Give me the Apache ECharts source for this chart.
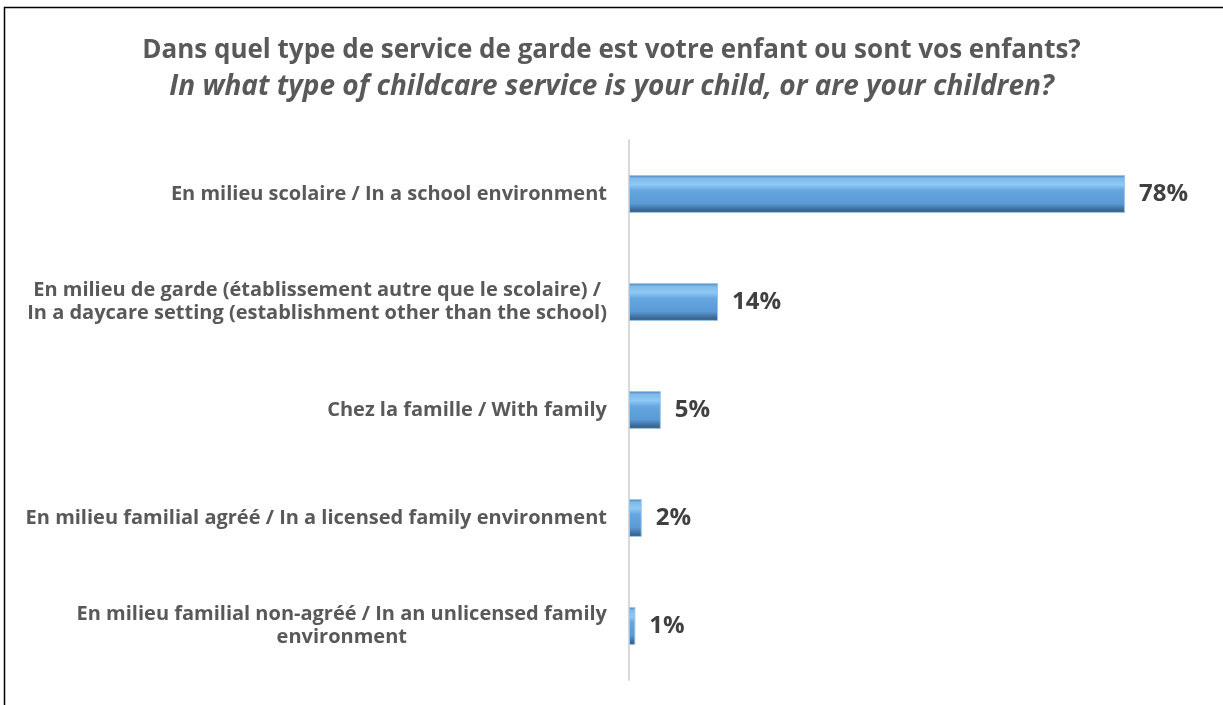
<!DOCTYPE html>
<html>
<head>
<meta charset="utf-8">
<script src="https://cdn.jsdelivr.net/npm/echarts@6/dist/echarts.min.js"></script>
<style>
html,body{margin:0;padding:0;background:#fff;}
#chart{width:1223px;height:705px;}
</style>
</head>
<body>
<div id="chart"></div>
<script>
const titleFr = 'Dans quel type de service de garde est votre enfant ou sont vos enfants?';
const titleEn = 'In what type of childcare service is your child, or are your children?';
const categories = [
  'En milieu scolaire / In a school environment',
  'En milieu de garde (établissement autre que le scolaire) /\nIn a daycare setting (establishment other than the school)',
  'Chez la famille / With family',
  'En milieu familial agréé / In a licensed family environment',
  'En milieu familial non-agréé / In an unlicensed family\nenvironment'
];
const values = [78, 14, 5, 2, 1];

const FONT = "'Open Sans', 'Liberation Sans', sans-serif";
const chart = echarts.init(document.getElementById('chart'));
const barGradient = new echarts.graphic.LinearGradient(0, 0, 0, 1, [
  {offset: 0, color: '#3f78b3'},
  {offset: 0.08, color: '#7db8ea'},
  {offset: 0.25, color: '#8fcaf5'},
  {offset: 0.4, color: '#66a6e0'},
  {offset: 0.75, color: '#5b9bd5'},
  {offset: 0.9, color: '#3d6f9f'},
  {offset: 1, color: '#2f5878'}
]);
chart.setOption({
  animation: false,
  backgroundColor: '#fff',
  graphic: [{
    type: 'rect',
    shape: {x: 4.5, y: 7.5, width: 1300, height: 800},
    style: {fill: null, stroke: '#000', lineWidth: 1.5},
    silent: true
  }],
  title: [{
    text: titleFr,
    left: 'center',
    top: 33,
    textStyle: {fontFamily: FONT, fontSize: 26, fontWeight: 'bold', color: '#595959'}
  }, {
    text: titleEn,
    left: 'center',
    top: 68,
    textStyle: {fontFamily: FONT, fontSize: 28, fontWeight: 'bold', fontStyle: 'italic', color: '#595959'}
  }],
  grid: {left: 629, top: 140, width: 572.4, height: 540, containLabel: false},
  xAxis: {
    type: 'value', min: 0, max: 90, show: false
  },
  yAxis: {
    type: 'category',
    inverse: true,
    data: categories,
    axisLine: {show: true, lineStyle: {color: '#d9d9d9', width: 2}},
    axisTick: {show: false},
    axisLabel: {
      margin: 22,
      formatter: function (v) {
        return v.split('\n').map(l => '{c|' + l + '}').join('\n');
      },
      rich: {
        c: {align: 'center', fontFamily: FONT, fontSize: 20, fontWeight: 'bold', color: '#595959', lineHeight: 23}
      }
    }
  },
  series: [{
    type: 'bar',
    data: values,
    barWidth: '35%',
    itemStyle: {color: barGradient, borderColor: '#9fc3e6', borderWidth: 1},
    label: {
      show: true,
      position: 'right',
      distance: 14,
      formatter: '{c}%',
      fontFamily: FONT,
      fontSize: 24,
      fontWeight: 'bold',
      color: '#404040'
    }
  }]
});
</script>
</body>
</html>
